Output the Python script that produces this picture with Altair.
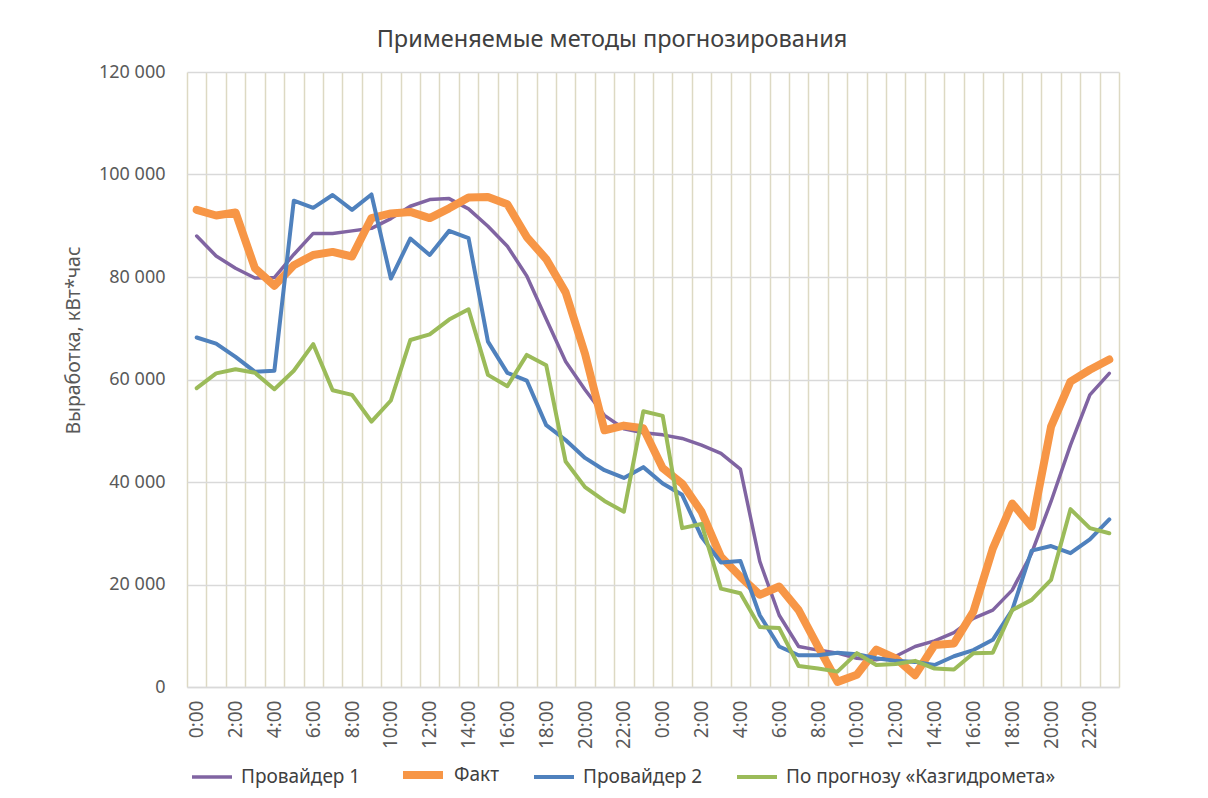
import json
import altair as alt
import pandas as pd

hours_day = ["0:00", "1:00", "2:00", "3:00", "4:00", "5:00", "6:00", "7:00",
             "8:00", "9:00", "10:00", "11:00", "12:00", "13:00", "14:00", "15:00",
             "16:00", "17:00", "18:00", "19:00", "20:00", "21:00", "22:00", "23:00"]
time_labels = hours_day + hours_day

series_names = ["Провайдер 1", "Факт", "Провайдер 2", "По прогнозу «Казгидромета»"]
series_colors = ["#8064A2", "#F79646", "#4F81BD", "#9BBB59"]
series_widths = [3.5, 8, 4, 4]

provider1 = [88000, 84100, 81700, 79800, 79900, 84400, 88500, 88500, 89000, 89500,
             91400, 93800, 95100, 95300, 93300, 89900, 86000, 80200, 71800, 63500,
             58000, 53000, 50400, 49600, 49200, 48500, 47200, 45600, 42500, 24500,
             14000, 7900, 7200, 6600, 5600, 5300, 6000, 7900, 9000, 10600,
             13400, 15000, 18900, 26100, 36200, 47200, 57000, 61200]

fact = [93100, 92000, 92600, 81700, 78300, 82300, 84300, 84900, 84000, 91500,
        92400, 92700, 91500, 93400, 95500, 95600, 94200, 87800, 83500, 77000,
        65000, 50100, 51000, 50500, 42700, 39700, 34200, 25400, 21500, 18000,
        19600, 15000, 7900, 1000, 2400, 7300, 5600, 2300, 8200, 8500,
        14700, 27000, 35800, 31300, 50800, 59600, 61900, 63900]

provider2 = [68200, 67000, 64400, 61500, 61700, 94900, 93500, 96000, 93100, 96100,
             79700, 87500, 84300, 89000, 87600, 67400, 61300, 59800, 51100, 48200,
             44700, 42300, 40800, 42900, 39700, 37500, 29300, 24300, 24600, 14000,
             7900, 6200, 6200, 6700, 6400, 5600, 5100, 4900, 4300, 6000,
             7200, 9200, 15000, 26600, 27500, 26100, 28800, 32700]

kazhydromet = [58300, 61200, 62000, 61300, 58100, 61700, 66900, 57900, 57000, 51800,
               55900, 67700, 68800, 71700, 73700, 60900, 58700, 64800, 62800, 44000,
               39000, 36300, 34200, 53800, 52900, 31000, 31800, 19200, 18300, 11700,
               11500, 4100, 3600, 3000, 6600, 4300, 4500, 5100, 3600, 3400,
               6600, 6700, 15000, 17000, 20900, 34700, 31000, 30000]

y_ticks = [0, 20000, 40000, 60000, 80000, 100000, 120000]

all_values = [provider1, fact, provider2, kazhydromet]
rows = []
for name, vals in zip(series_names, all_values):
    for i, v in enumerate(vals):
        rows.append({"series": name, "idx": i, "value": v})
df = pd.DataFrame(rows)

FONT = "Noto Sans"
TXT = "#595959"

label_expr = f"datum.value % 2 == 0 ? {json.dumps(time_labels, ensure_ascii=False)}[datum.value] : ''"

x_enc = alt.X(
    "idx:O",
    scale=alt.Scale(type="band", paddingInner=0, paddingOuter=0),
    axis=alt.Axis(
        title=None,
        labelExpr=label_expr,
        labelAngle=-90,
        labelAlign="right",
        labelBaseline="middle",
        labelFontSize=19,
        labelFont=FONT,
        labelColor=TXT,
        labelPadding=13,
        ticks=False,
        tickBand="extent",
        grid=True,
        gridColor="#DDD9C3",
        gridWidth=1.5,
        domain=True,
        domainColor="#D9D9D9",
        domainWidth=1.5,
        labelOverlap=False,
    ),
)

y_enc = alt.Y(
    "value:Q",
    scale=alt.Scale(domain=[0, 120000], nice=False),
    axis=alt.Axis(
        title="Выработка, кВт*час",
        titleFont=FONT,
        titleFontSize=19.5,
        titleFontWeight="normal",
        titleColor=TXT,
        titlePadding=15,
        titleY=268,
        values=y_ticks,
        labelExpr="datum.value == 0 ? '0' : floor(datum.value / 1000) + ' 000'",
        labelFont=FONT,
        labelFontSize=18,
        labelColor=TXT,
        labelPadding=22,
        ticks=False,
        domain=False,
        grid=True,
        gridColor="#D9D9D9",
        gridWidth=1.5,
    ),
)

legend = alt.Legend(
    title=None,
    orient="none",
    legendX=3,
    legendY=679,
    direction="horizontal",
    symbolType="stroke",
    symbolSize=1600,
    labelFont=FONT,
    labelFontSize=19,
    labelColor="#404040",
    labelOffset=7,
    columnPadding=26,
    labelLimit=400,
)

color_enc = alt.Color(
    "series:N",
    scale=alt.Scale(domain=series_names, range=series_colors),
    legend=legend,
)
width_enc = alt.StrokeWidth(
    "series:N",
    scale=alt.Scale(type="ordinal", domain=series_names, range=series_widths),
    legend=legend,
)

layers = []
for name in series_names:
    layers.append(
        alt.Chart(df)
        .transform_filter(alt.datum.series == name)
        .mark_line(strokeJoin="round", strokeCap="round")
        .encode(x=x_enc, y=y_enc, color=color_enc, strokeWidth=width_enc)
    )

chart = (
    alt.layer(*layers)
    .properties(
        width=932,
        height=615,
        padding={"left": 179, "top": 64, "right": 81, "bottom": 110},
        autosize=alt.AutoSizeParams(type="none"),
        title=alt.TitleParams(
            "Применяемые методы прогнозирования",
            font=FONT,
            fontSize=23.5,
            fontWeight="normal",
            color="#404040",
            offset=12,
            dx=-41,
        ),
        background="white",
    )
    .configure_view(stroke=None)
)

chart.save("out.html", embed_options={"renderer": "svg", "actions": False})
